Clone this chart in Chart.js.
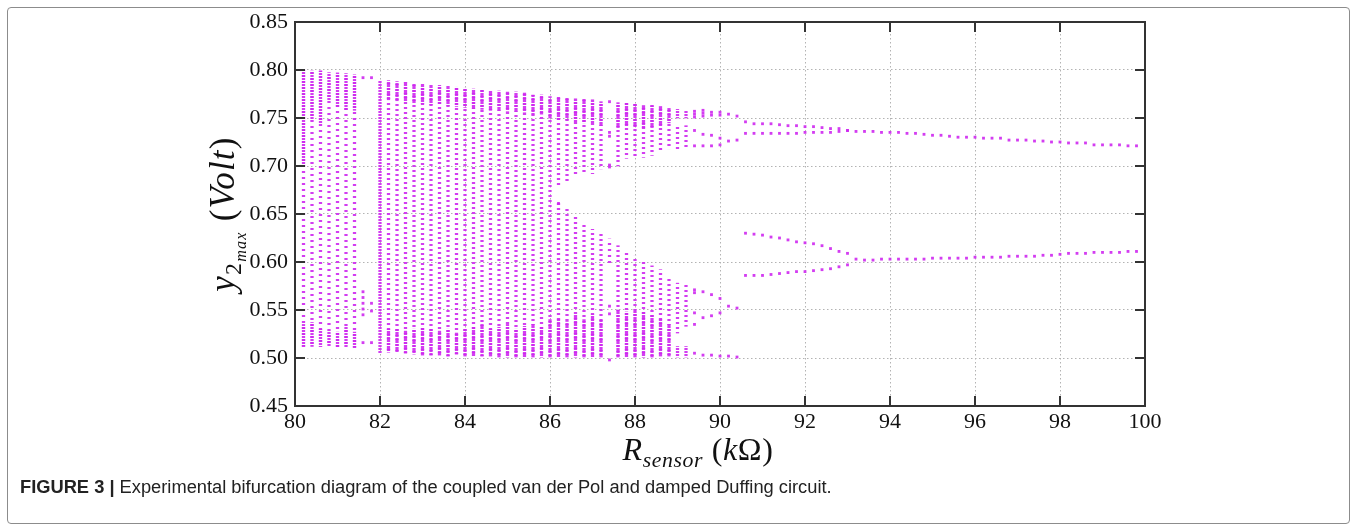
<!doctype html>
<html lang="en">
<head>
<meta charset="UTF-8">
<title>Bifurcation diagram</title>
<script src="https://cdn.jsdelivr.net/npm/chart.js"></script>
<style>
  body { margin: 0; background: #fff; }
  #wrap { position: relative; width: 1356px; height: 531px; overflow: hidden; }
  #box { position: absolute; left: 7px; top: 7px; width: 1343px; height: 517px; box-sizing: border-box;
         border: 1px solid #8c8c8c; border-radius: 4px; }
  #plot { position: absolute; left: 0; top: 0; }
  .math { position: absolute; font-family: 'Liberation Serif', serif; color: #111;
          white-space: nowrap; text-align: center; }
  .math sub { font-size: 0.68em; vertical-align: -0.3em; line-height: 0; }
  #xt { left: 548px; top: 430px; width: 300px; height: 38px; line-height: 38px; font-size: 32px; letter-spacing: 0.6px; }
  #yt { left: 73px; top: 194px; width: 300px; height: 40px; line-height: 40px; font-size: 35px; letter-spacing: 1.2px;
        transform: rotate(-90deg); }
  #cap { position: absolute; left: 20px; top: 476px; font-family: 'Liberation Sans', Arial, sans-serif;
         font-size: 18.3px; color: #222; white-space: nowrap; }
</style>
</head>
<body>
<div id="wrap">
  <div id="box"></div>
  <canvas id="plot" width="1356" height="531"></canvas>
  <div class="math" id="yt"><i>y</i><sub>2<sub><i>max</i></sub></sub> (<i>Volt</i>)</div>
  <div class="math" id="xt"><i>R</i><sub><i>sensor</i></sub> (<i>k</i>Ω)</div>
  <div id="cap"><b>FIGURE 3 |</b> Experimental bifurcation diagram of the coupled van der Pol and damped Duffing circuit.</div>
</div>
<script>
// chaotic band, read column by column: [R (kOhm), low, high]
// sparse scatter between 80 and 82
const thinSegs = [
    [80.2, 0.512, 0.800], [80.4, 0.512, 0.799], [80.6, 0.512, 0.799], [80.8, 0.512, 0.797],
    [81.0, 0.511, 0.797], [81.2, 0.511, 0.796], [81.4, 0.511, 0.795], [87.4, 0.596, 0.624]
];
// medium density columns
const midSegs = [
    [82.2, 0.506, 0.789], [82.4, 0.506, 0.788], [82.6, 0.505, 0.787], [82.8, 0.504, 0.786],
    [83.0, 0.503, 0.785], [83.2, 0.503, 0.784], [83.4, 0.503, 0.784], [83.6, 0.502, 0.783],
    [83.8, 0.504, 0.782], [84.0, 0.502, 0.781], [84.2, 0.502, 0.780], [84.4, 0.502, 0.779],
    [84.6, 0.502, 0.778], [84.8, 0.501, 0.778], [85.0, 0.501, 0.777], [85.2, 0.501, 0.777],
    [85.4, 0.501, 0.776], [85.6, 0.501, 0.774], [85.8, 0.501, 0.774], [86.0, 0.501, 0.772],
    [86.2, 0.501, 0.662], [86.2, 0.680, 0.772], [86.4, 0.501, 0.656], [86.4, 0.684, 0.771],
    [86.6, 0.501, 0.648], [86.6, 0.692, 0.770], [86.8, 0.501, 0.641], [86.8, 0.694, 0.770],
    [87.0, 0.501, 0.634], [87.0, 0.692, 0.769], [87.2, 0.501, 0.629], [87.2, 0.697, 0.767],
    [87.6, 0.501, 0.617], [87.6, 0.700, 0.766], [87.8, 0.501, 0.611], [87.8, 0.708, 0.766],
    [88.0, 0.501, 0.606], [88.0, 0.708, 0.765], [88.2, 0.501, 0.601], [88.2, 0.709, 0.763],
    [88.4, 0.501, 0.596], [88.4, 0.711, 0.763], [88.6, 0.502, 0.592], [88.6, 0.715, 0.762],
    [88.8, 0.502, 0.585], [88.8, 0.718, 0.760], [89.0, 0.526, 0.578], [89.0, 0.718, 0.742],
    [89.2, 0.533, 0.577], [89.2, 0.718, 0.742]
];
// dense parts (bottom and top of the columns)
const denseSegs = [
    [80.2, 0.512, 0.535], [80.2, 0.700, 0.800], [80.4, 0.512, 0.537], [80.4, 0.748, 0.799],
    [80.6, 0.512, 0.530], [80.6, 0.745, 0.799], [80.8, 0.512, 0.528], [80.8, 0.769, 0.797],
    [81.0, 0.511, 0.527], [81.0, 0.762, 0.797], [81.2, 0.511, 0.533], [81.2, 0.758, 0.796],
    [81.4, 0.511, 0.527], [81.4, 0.758, 0.795], [82.0, 0.505, 0.789],
    [82.2, 0.506, 0.530], [82.2, 0.769, 0.789], [82.4, 0.506, 0.530], [82.4, 0.768, 0.788],
    [82.6, 0.505, 0.528], [82.6, 0.767, 0.787], [82.8, 0.504, 0.530], [82.8, 0.766, 0.786],
    [83.0, 0.503, 0.532], [83.0, 0.765, 0.785], [83.2, 0.503, 0.530], [83.2, 0.764, 0.784],
    [83.4, 0.503, 0.528], [83.4, 0.764, 0.784], [83.6, 0.502, 0.530], [83.6, 0.763, 0.783],
    [83.8, 0.504, 0.526], [83.8, 0.762, 0.782], [84.0, 0.502, 0.530], [84.0, 0.761, 0.781],
    [84.2, 0.502, 0.532], [84.2, 0.760, 0.780], [84.4, 0.502, 0.535], [84.4, 0.759, 0.779],
    [84.6, 0.502, 0.530], [84.6, 0.758, 0.778], [84.8, 0.501, 0.532], [84.8, 0.758, 0.778],
    [85.0, 0.501, 0.535], [85.0, 0.757, 0.777], [85.2, 0.501, 0.530], [85.2, 0.757, 0.777],
    [85.4, 0.501, 0.533], [85.4, 0.756, 0.776], [85.6, 0.501, 0.535], [85.6, 0.754, 0.774],
    [85.8, 0.501, 0.532], [85.8, 0.754, 0.774], [86.0, 0.501, 0.540], [86.0, 0.750, 0.772],
    [86.2, 0.501, 0.540], [86.2, 0.748, 0.772], [86.4, 0.501, 0.538], [86.4, 0.748, 0.771],
    [86.6, 0.501, 0.545], [86.6, 0.745, 0.770], [86.8, 0.501, 0.540], [86.8, 0.745, 0.770],
    [87.0, 0.501, 0.545], [87.0, 0.745, 0.769], [87.2, 0.501, 0.540], [87.2, 0.742, 0.767],
    [87.6, 0.501, 0.550], [87.6, 0.740, 0.766], [87.8, 0.501, 0.548], [87.8, 0.742, 0.766],
    [88.0, 0.501, 0.550], [88.0, 0.740, 0.765], [88.2, 0.501, 0.548], [88.2, 0.740, 0.763],
    [88.4, 0.501, 0.545], [88.4, 0.740, 0.763], [88.6, 0.502, 0.540], [88.6, 0.742, 0.762],
    [88.8, 0.502, 0.535], [88.8, 0.745, 0.760], [89.0, 0.501, 0.512], [89.0, 0.750, 0.759],
    [89.2, 0.501, 0.512], [89.2, 0.750, 0.758]
];

// single dots per column
const dotR = [81.6, 81.8, 86.2, 87.4, 89.4, 89.6, 89.8, 90.0, 90.2, 90.4];
const dotY = [
    [0.792, 0.569, 0.563, 0.557, 0.551, 0.545, 0.516],
    [0.792, 0.557, 0.549, 0.516],
    [0.661],
    [0.767, 0.735, 0.731, 0.701, 0.699, 0.554, 0.546, 0.498],
    [0.757, 0.754, 0.751, 0.737, 0.721, 0.571, 0.568, 0.547, 0.535, 0.505],
    [0.758, 0.755, 0.752, 0.733, 0.721, 0.569, 0.542, 0.503],
    [0.756, 0.753, 0.732, 0.721, 0.566, 0.544, 0.503],
    [0.756, 0.753, 0.729, 0.722, 0.562, 0.547, 0.502],
    [0.754, 0.726, 0.554, 0.502],
    [0.752, 0.727, 0.552, 0.501]
];

// period-4 window
const splitR   = [90.6, 90.8, 91.0, 91.2, 91.4, 91.6, 91.8, 92.0, 92.2, 92.4, 92.6, 92.8, 93.0];
const splitUpA = [0.746, 0.744, 0.744, 0.744, 0.743, 0.742, 0.742, 0.741, 0.741, 0.740, 0.739, 0.739, 0.737];
const splitUpB = [0.734, 0.734, 0.734, 0.734, 0.734, 0.734, 0.734, 0.735, 0.735, 0.735, 0.735, 0.736, 0.737];
const splitLoA = [0.630, 0.629, 0.628, 0.626, 0.625, 0.623, 0.621, 0.620, 0.619, 0.617, 0.614, 0.611, 0.609];
const splitLoB = [0.586, 0.586, 0.586, 0.587, 0.588, 0.589, 0.590, 0.590, 0.591, 0.592, 0.593, 0.595, 0.597];

// period-2 tail
const singleR  = [93.2, 93.4, 93.6, 93.8, 94.0, 94.2, 94.4, 94.6, 94.8, 95.0, 95.2, 95.4, 95.6, 95.8, 96.0, 96.2, 96.4,
                  96.6, 96.8, 97.0, 97.2, 97.4, 97.6, 97.8, 98.0, 98.2, 98.4, 98.6, 98.8, 99.0, 99.2, 99.4, 99.6, 99.8];
const singleUp = [0.736, 0.736, 0.736, 0.735, 0.735, 0.735, 0.734, 0.734, 0.733, 0.732, 0.732, 0.731, 0.730, 0.730, 0.730, 0.729, 0.729,
                  0.729, 0.727, 0.727, 0.727, 0.726, 0.726, 0.725, 0.725, 0.724, 0.724, 0.724, 0.722, 0.722, 0.722, 0.722, 0.721, 0.721];
const singleLo = [0.603, 0.602, 0.602, 0.603, 0.603, 0.603, 0.603, 0.603, 0.603, 0.604, 0.604, 0.604, 0.604, 0.604, 0.605, 0.605, 0.605,
                  0.605, 0.606, 0.606, 0.606, 0.606, 0.607, 0.607, 0.608, 0.609, 0.609, 0.609, 0.610, 0.610, 0.610, 0.610, 0.611, 0.611];

const MAG = 'rgba(206, 40, 240, 0.9)';

// dotted fill for the columns. The tile is 34px wide = four column steps
// (0.2 kOhm = 8.5px here), each step gets its own phase so the dots of
// neighbouring columns do not line up in rows.
function stripes(on, off) {
    const period = on + off;
    const edges = [2, 10, 19, 27, 36];
    const shift = [0, 2, 1, 3];
    const c = document.createElement('canvas');
    c.width = 34;
    c.height = period * 4;
    const g = c.getContext('2d');
    g.fillStyle = MAG;
    for (let x = 0; x < 34; x++) {
        const xx = x < 2 ? x + 34 : x;
        let b = 0;
        while (xx >= edges[b + 1]) b++;
        for (let y = 0; y < c.height; y++) {
            if ((y + shift[b]) % period < on) g.fillRect(x, y, 1, 1);
        }
    }
    return g.createPattern(c, 'repeat');
}

const toBars = segs => segs.map(s => ({x: s[0], y: [s[1], s[2]]}));
const toPts = (xs, ys) => xs.map((x, i) => ({x: x, y: ys[i]}));

const dots = [];
dotR.forEach((r, i) => dotY[i].forEach(y => dots.push({x: r, y: y})));

function barSet(segs, fill) {
    return {type: 'bar', data: toBars(segs), backgroundColor: fill, borderWidth: 0,
            barThickness: 2.6, grouped: false};
}
function dotSet(data) {
    return {type: 'scatter', data: data, backgroundColor: MAG, borderWidth: 0,
            pointStyle: 'rect', pointRadius: 2, pointHoverRadius: 2};
}

// axis box with inward ticks
const frame = {
    id: 'frame',
    afterDatasetsDraw(chart) {
        const {ctx, chartArea: a, scales} = chart;
        ctx.save();
        ctx.strokeStyle = '#333';
        ctx.lineWidth = 2;
        ctx.strokeRect(a.left, a.top, a.right - a.left, a.bottom - a.top);
        ctx.beginPath();
        scales.x.ticks.forEach(t => {
            const px = Math.round(scales.x.getPixelForValue(t.value));
            if (px <= a.left + 1 || px >= a.right - 1) return;
            ctx.moveTo(px, a.bottom); ctx.lineTo(px, a.bottom - 10);
            ctx.moveTo(px, a.top); ctx.lineTo(px, a.top + 10);
        });
        scales.y.ticks.forEach(t => {
            const py = Math.round(scales.y.getPixelForValue(t.value));
            if (py <= a.top + 1 || py >= a.bottom - 1) return;
            ctx.moveTo(a.left, py); ctx.lineTo(a.left + 10, py);
            ctx.moveTo(a.right, py); ctx.lineTo(a.right - 10, py);
        });
        ctx.stroke();
        ctx.restore();
    }
};

const tickFont = {family: 'Liberation Serif', size: 22};
const gridOpts = {color: '#b3b3b3', lineWidth: 1, drawTicks: false, offset: false};

new Chart(document.getElementById('plot'), {
    type: 'scatter',
    data: {
        datasets: [
            barSet(thinSegs, stripes(2, 4)),
            barSet(midSegs, stripes(2, 3)),
            barSet(denseSegs, stripes(2, 1)),
            dotSet(dots),
            dotSet(toPts(splitR, splitUpA)),
            dotSet(toPts(splitR, splitUpB)),
            dotSet(toPts(splitR, splitLoA)),
            dotSet(toPts(splitR, splitLoB)),
            dotSet(toPts(singleR, singleUp)),
            dotSet(toPts(singleR, singleLo))
        ]
    },
    options: {
        responsive: false,
        animation: false,
        layout: {padding: {top: 22, right: 211, left: 0, bottom: 0}},
        plugins: {legend: {display: false}, tooltip: {enabled: false}},
        scales: {
            x: {
                type: 'linear', min: 80, max: 100, offset: false,
                afterFit: s => { s.height = 125; },
                ticks: {stepSize: 2, padding: 3, color: '#111', font: tickFont, maxRotation: 0, autoSkip: false},
                grid: gridOpts,
                border: {display: false, dash: [1.5, 2.5]}
            },
            y: {
                type: 'linear', min: 0.45, max: 0.85,
                afterFit: s => { s.width = 295; },
                ticks: {stepSize: 0.05, padding: 7, color: '#111', font: tickFont,
                        callback: v => v.toFixed(2)},
                grid: gridOpts,
                border: {display: false, dash: [1.5, 2.5]}
            }
        }
    },
    plugins: [frame]
});
</script>
</body>
</html>
